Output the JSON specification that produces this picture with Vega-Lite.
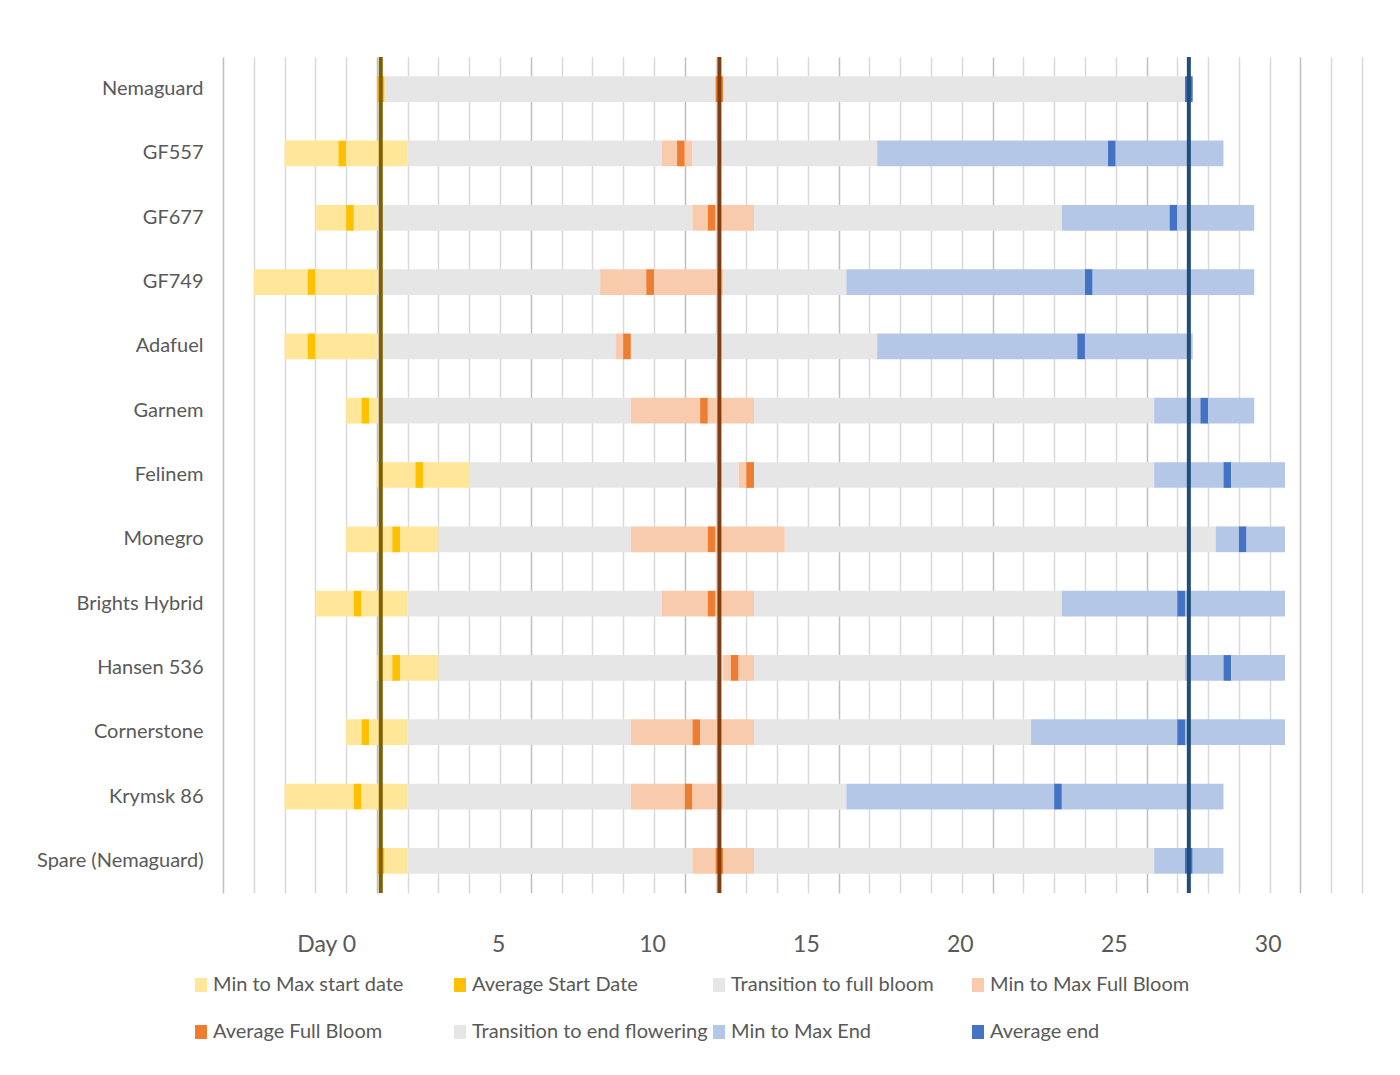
{
  "$schema": "https://vega.github.io/schema/vega-lite/v6.json",
  "autosize": {"type": "none"},
  "width": 1139,
  "height": 836,
  "padding": {"left": 223, "top": 57, "right": 38, "bottom": 182},
  "background": "white",
  "config": {
    "view": {"stroke": null},
    "font": "Lato",
    "axisX": {
      "title": null,
      "values": [-4, -3, -2, -1, 0, 1, 2, 3, 4, 5, 6, 7, 8, 9, 10, 11, 12, 13, 14, 15, 16, 17, 18, 19, 20, 21, 22, 23, 24, 25, 26, 27, 28, 29, 30, 31, 32, 33],
      "grid": true,
      "gridColor": {"condition": {"test": "(datum.value + 4) % 5 === 0", "value": "#bfbfbf"}, "value": "#d9d9d9"},
      "gridWidth": 1.5,
      "ticks": false,
      "domain": false,
      "labelExpr": "datum.value === 0 ? 'Day 0' : (datum.value > 0 && datum.value % 5 === 0 ? '' + datum.value : '')",
      "labelOffset": {"condition": {"test": "datum.value === 0", "value": -20}, "value": -2},
      "labelOverlap": false,
      "labelFlush": false,
      "labelFont": "Lato",
      "labelFontSize": 23,
      "labelColor": "#595959",
      "labelPadding": 40
    }
  },
  "datasets": {
    "segments": [
      {"rootstock": "Nemaguard", "phase": "Average Start Date", "from": 1, "to": 1.25},
      {"rootstock": "Nemaguard", "phase": "Transition to full bloom", "from": 1.25, "to": 12},
      {"rootstock": "Nemaguard", "phase": "Average Full Bloom", "from": 12, "to": 12.25},
      {"rootstock": "Nemaguard", "phase": "Transition to end flowering", "from": 12.25, "to": 27.25},
      {"rootstock": "Nemaguard", "phase": "Average end", "from": 27.25, "to": 27.5},

      {"rootstock": "GF557", "phase": "Min to Max start date", "from": -2, "to": -0.25},
      {"rootstock": "GF557", "phase": "Average Start Date", "from": -0.25, "to": 0},
      {"rootstock": "GF557", "phase": "Min to Max start date", "from": 0, "to": 2},
      {"rootstock": "GF557", "phase": "Transition to full bloom", "from": 2, "to": 10.25},
      {"rootstock": "GF557", "phase": "Min to Max Full Bloom", "from": 10.25, "to": 10.75},
      {"rootstock": "GF557", "phase": "Average Full Bloom", "from": 10.75, "to": 11},
      {"rootstock": "GF557", "phase": "Min to Max Full Bloom", "from": 11, "to": 11.25},
      {"rootstock": "GF557", "phase": "Transition to end flowering", "from": 11.25, "to": 17.25},
      {"rootstock": "GF557", "phase": "Min to Max End", "from": 17.25, "to": 24.75},
      {"rootstock": "GF557", "phase": "Average end", "from": 24.75, "to": 25},
      {"rootstock": "GF557", "phase": "Min to Max End", "from": 25, "to": 28.5},

      {"rootstock": "GF677", "phase": "Min to Max start date", "from": -1, "to": 0},
      {"rootstock": "GF677", "phase": "Average Start Date", "from": 0, "to": 0.25},
      {"rootstock": "GF677", "phase": "Min to Max start date", "from": 0.25, "to": 1},
      {"rootstock": "GF677", "phase": "Transition to full bloom", "from": 1, "to": 11.25},
      {"rootstock": "GF677", "phase": "Min to Max Full Bloom", "from": 11.25, "to": 11.75},
      {"rootstock": "GF677", "phase": "Average Full Bloom", "from": 11.75, "to": 12},
      {"rootstock": "GF677", "phase": "Min to Max Full Bloom", "from": 12, "to": 13.25},
      {"rootstock": "GF677", "phase": "Transition to end flowering", "from": 13.25, "to": 23.25},
      {"rootstock": "GF677", "phase": "Min to Max End", "from": 23.25, "to": 26.75},
      {"rootstock": "GF677", "phase": "Average end", "from": 26.75, "to": 27},
      {"rootstock": "GF677", "phase": "Min to Max End", "from": 27, "to": 29.5},

      {"rootstock": "GF749", "phase": "Min to Max start date", "from": -3, "to": -1.25},
      {"rootstock": "GF749", "phase": "Average Start Date", "from": -1.25, "to": -1},
      {"rootstock": "GF749", "phase": "Min to Max start date", "from": -1, "to": 1},
      {"rootstock": "GF749", "phase": "Transition to full bloom", "from": 1, "to": 8.25},
      {"rootstock": "GF749", "phase": "Min to Max Full Bloom", "from": 8.25, "to": 9.75},
      {"rootstock": "GF749", "phase": "Average Full Bloom", "from": 9.75, "to": 10},
      {"rootstock": "GF749", "phase": "Min to Max Full Bloom", "from": 10, "to": 12.25},
      {"rootstock": "GF749", "phase": "Transition to end flowering", "from": 12.25, "to": 16.25},
      {"rootstock": "GF749", "phase": "Min to Max End", "from": 16.25, "to": 24},
      {"rootstock": "GF749", "phase": "Average end", "from": 24, "to": 24.25},
      {"rootstock": "GF749", "phase": "Min to Max End", "from": 24.25, "to": 29.5},

      {"rootstock": "Adafuel", "phase": "Min to Max start date", "from": -2, "to": -1.25},
      {"rootstock": "Adafuel", "phase": "Average Start Date", "from": -1.25, "to": -1},
      {"rootstock": "Adafuel", "phase": "Min to Max start date", "from": -1, "to": 1},
      {"rootstock": "Adafuel", "phase": "Transition to full bloom", "from": 1, "to": 8.75},
      {"rootstock": "Adafuel", "phase": "Min to Max Full Bloom", "from": 8.75, "to": 9},
      {"rootstock": "Adafuel", "phase": "Average Full Bloom", "from": 9, "to": 9.25},
      {"rootstock": "Adafuel", "phase": "Transition to end flowering", "from": 9.25, "to": 17.25},
      {"rootstock": "Adafuel", "phase": "Min to Max End", "from": 17.25, "to": 23.75},
      {"rootstock": "Adafuel", "phase": "Average end", "from": 23.75, "to": 24},
      {"rootstock": "Adafuel", "phase": "Min to Max End", "from": 24, "to": 27.5},

      {"rootstock": "Garnem", "phase": "Min to Max start date", "from": 0, "to": 0.5},
      {"rootstock": "Garnem", "phase": "Average Start Date", "from": 0.5, "to": 0.75},
      {"rootstock": "Garnem", "phase": "Min to Max start date", "from": 0.75, "to": 1},
      {"rootstock": "Garnem", "phase": "Transition to full bloom", "from": 1, "to": 9.25},
      {"rootstock": "Garnem", "phase": "Min to Max Full Bloom", "from": 9.25, "to": 11.5},
      {"rootstock": "Garnem", "phase": "Average Full Bloom", "from": 11.5, "to": 11.75},
      {"rootstock": "Garnem", "phase": "Min to Max Full Bloom", "from": 11.75, "to": 13.25},
      {"rootstock": "Garnem", "phase": "Transition to end flowering", "from": 13.25, "to": 26.25},
      {"rootstock": "Garnem", "phase": "Min to Max End", "from": 26.25, "to": 27.75},
      {"rootstock": "Garnem", "phase": "Average end", "from": 27.75, "to": 28},
      {"rootstock": "Garnem", "phase": "Min to Max End", "from": 28, "to": 29.5},

      {"rootstock": "Felinem", "phase": "Min to Max start date", "from": 1, "to": 2.25},
      {"rootstock": "Felinem", "phase": "Average Start Date", "from": 2.25, "to": 2.5},
      {"rootstock": "Felinem", "phase": "Min to Max start date", "from": 2.5, "to": 4},
      {"rootstock": "Felinem", "phase": "Transition to full bloom", "from": 4, "to": 12.75},
      {"rootstock": "Felinem", "phase": "Min to Max Full Bloom", "from": 12.75, "to": 13},
      {"rootstock": "Felinem", "phase": "Average Full Bloom", "from": 13, "to": 13.25},
      {"rootstock": "Felinem", "phase": "Transition to end flowering", "from": 13.25, "to": 26.25},
      {"rootstock": "Felinem", "phase": "Min to Max End", "from": 26.25, "to": 28.5},
      {"rootstock": "Felinem", "phase": "Average end", "from": 28.5, "to": 28.75},
      {"rootstock": "Felinem", "phase": "Min to Max End", "from": 28.75, "to": 30.5},

      {"rootstock": "Monegro", "phase": "Min to Max start date", "from": 0, "to": 1.5},
      {"rootstock": "Monegro", "phase": "Average Start Date", "from": 1.5, "to": 1.75},
      {"rootstock": "Monegro", "phase": "Min to Max start date", "from": 1.75, "to": 3},
      {"rootstock": "Monegro", "phase": "Transition to full bloom", "from": 3, "to": 9.25},
      {"rootstock": "Monegro", "phase": "Min to Max Full Bloom", "from": 9.25, "to": 11.75},
      {"rootstock": "Monegro", "phase": "Average Full Bloom", "from": 11.75, "to": 12},
      {"rootstock": "Monegro", "phase": "Min to Max Full Bloom", "from": 12, "to": 14.25},
      {"rootstock": "Monegro", "phase": "Transition to end flowering", "from": 14.25, "to": 28.25},
      {"rootstock": "Monegro", "phase": "Min to Max End", "from": 28.25, "to": 29},
      {"rootstock": "Monegro", "phase": "Average end", "from": 29, "to": 29.25},
      {"rootstock": "Monegro", "phase": "Min to Max End", "from": 29.25, "to": 30.5},

      {"rootstock": "Brights Hybrid", "phase": "Min to Max start date", "from": -1, "to": 0.25},
      {"rootstock": "Brights Hybrid", "phase": "Average Start Date", "from": 0.25, "to": 0.5},
      {"rootstock": "Brights Hybrid", "phase": "Min to Max start date", "from": 0.5, "to": 2},
      {"rootstock": "Brights Hybrid", "phase": "Transition to full bloom", "from": 2, "to": 10.25},
      {"rootstock": "Brights Hybrid", "phase": "Min to Max Full Bloom", "from": 10.25, "to": 11.75},
      {"rootstock": "Brights Hybrid", "phase": "Average Full Bloom", "from": 11.75, "to": 12},
      {"rootstock": "Brights Hybrid", "phase": "Min to Max Full Bloom", "from": 12, "to": 13.25},
      {"rootstock": "Brights Hybrid", "phase": "Transition to end flowering", "from": 13.25, "to": 23.25},
      {"rootstock": "Brights Hybrid", "phase": "Min to Max End", "from": 23.25, "to": 27},
      {"rootstock": "Brights Hybrid", "phase": "Average end", "from": 27, "to": 27.25},
      {"rootstock": "Brights Hybrid", "phase": "Min to Max End", "from": 27.25, "to": 30.5},

      {"rootstock": "Hansen 536", "phase": "Min to Max start date", "from": 1, "to": 1.5},
      {"rootstock": "Hansen 536", "phase": "Average Start Date", "from": 1.5, "to": 1.75},
      {"rootstock": "Hansen 536", "phase": "Min to Max start date", "from": 1.75, "to": 3},
      {"rootstock": "Hansen 536", "phase": "Transition to full bloom", "from": 3, "to": 12.25},
      {"rootstock": "Hansen 536", "phase": "Min to Max Full Bloom", "from": 12.25, "to": 12.5},
      {"rootstock": "Hansen 536", "phase": "Average Full Bloom", "from": 12.5, "to": 12.75},
      {"rootstock": "Hansen 536", "phase": "Min to Max Full Bloom", "from": 12.75, "to": 13.25},
      {"rootstock": "Hansen 536", "phase": "Transition to end flowering", "from": 13.25, "to": 27.25},
      {"rootstock": "Hansen 536", "phase": "Min to Max End", "from": 27.25, "to": 28.5},
      {"rootstock": "Hansen 536", "phase": "Average end", "from": 28.5, "to": 28.75},
      {"rootstock": "Hansen 536", "phase": "Min to Max End", "from": 28.75, "to": 30.5},

      {"rootstock": "Cornerstone", "phase": "Min to Max start date", "from": 0, "to": 0.5},
      {"rootstock": "Cornerstone", "phase": "Average Start Date", "from": 0.5, "to": 0.75},
      {"rootstock": "Cornerstone", "phase": "Min to Max start date", "from": 0.75, "to": 2},
      {"rootstock": "Cornerstone", "phase": "Transition to full bloom", "from": 2, "to": 9.25},
      {"rootstock": "Cornerstone", "phase": "Min to Max Full Bloom", "from": 9.25, "to": 11.25},
      {"rootstock": "Cornerstone", "phase": "Average Full Bloom", "from": 11.25, "to": 11.5},
      {"rootstock": "Cornerstone", "phase": "Min to Max Full Bloom", "from": 11.5, "to": 13.25},
      {"rootstock": "Cornerstone", "phase": "Transition to end flowering", "from": 13.25, "to": 22.25},
      {"rootstock": "Cornerstone", "phase": "Min to Max End", "from": 22.25, "to": 27},
      {"rootstock": "Cornerstone", "phase": "Average end", "from": 27, "to": 27.25},
      {"rootstock": "Cornerstone", "phase": "Min to Max End", "from": 27.25, "to": 30.5},

      {"rootstock": "Krymsk 86", "phase": "Min to Max start date", "from": -2, "to": 0.25},
      {"rootstock": "Krymsk 86", "phase": "Average Start Date", "from": 0.25, "to": 0.5},
      {"rootstock": "Krymsk 86", "phase": "Min to Max start date", "from": 0.5, "to": 2},
      {"rootstock": "Krymsk 86", "phase": "Transition to full bloom", "from": 2, "to": 9.25},
      {"rootstock": "Krymsk 86", "phase": "Min to Max Full Bloom", "from": 9.25, "to": 11},
      {"rootstock": "Krymsk 86", "phase": "Average Full Bloom", "from": 11, "to": 11.25},
      {"rootstock": "Krymsk 86", "phase": "Min to Max Full Bloom", "from": 11.25, "to": 12.25},
      {"rootstock": "Krymsk 86", "phase": "Transition to end flowering", "from": 12.25, "to": 16.25},
      {"rootstock": "Krymsk 86", "phase": "Min to Max End", "from": 16.25, "to": 23},
      {"rootstock": "Krymsk 86", "phase": "Average end", "from": 23, "to": 23.25},
      {"rootstock": "Krymsk 86", "phase": "Min to Max End", "from": 23.25, "to": 28.5},

      {"rootstock": "Spare (Nemaguard)", "phase": "Average Start Date", "from": 1, "to": 1.25},
      {"rootstock": "Spare (Nemaguard)", "phase": "Min to Max start date", "from": 1.25, "to": 2},
      {"rootstock": "Spare (Nemaguard)", "phase": "Transition to full bloom", "from": 2, "to": 11.25},
      {"rootstock": "Spare (Nemaguard)", "phase": "Min to Max Full Bloom", "from": 11.25, "to": 12},
      {"rootstock": "Spare (Nemaguard)", "phase": "Average Full Bloom", "from": 12, "to": 12.25},
      {"rootstock": "Spare (Nemaguard)", "phase": "Min to Max Full Bloom", "from": 12.25, "to": 13.25},
      {"rootstock": "Spare (Nemaguard)", "phase": "Transition to end flowering", "from": 13.25, "to": 26.25},
      {"rootstock": "Spare (Nemaguard)", "phase": "Min to Max End", "from": 26.25, "to": 27.25},
      {"rootstock": "Spare (Nemaguard)", "phase": "Average end", "from": 27.25, "to": 27.5},
      {"rootstock": "Spare (Nemaguard)", "phase": "Min to Max End", "from": 27.5, "to": 28.5}
    ],
    "lines": [
      {"marker": "Average start", "day": 1.125},
      {"marker": "Average full bloom", "day": 12.125},
      {"marker": "Average end", "day": 27.375}
    ]
  },
  "layer": [
    {
      "data": {"name": "segments"},
      "mark": {"type": "bar"},
      "encoding": {
        "y": {
          "field": "rootstock",
          "type": "nominal",
          "sort": ["Nemaguard", "GF557", "GF677", "GF749", "Adafuel", "Garnem", "Felinem", "Monegro", "Brights Hybrid", "Hansen 536", "Cornerstone", "Krymsk 86", "Spare (Nemaguard)"],
          "scale": {"paddingInner": 0.6, "paddingOuter": 0.3},
          "axis": {
            "title": null,
            "ticks": false,
            "domain": false,
            "grid": false,
            "labelFont": "Lato",
            "labelFontSize": 20,
            "labelColor": "#595959",
            "labelPadding": 20,
            "labelLimit": 300
          }
        },
        "x": {
          "field": "from",
          "type": "quantitative",
          "title": null,
          "scale": {"domain": [-4, 33], "nice": false, "zero": false}
        },
        "x2": {"field": "to"},
        "color": {
          "field": "phase",
          "type": "nominal",
          "scale": {
            "domain": ["Min to Max start date", "Average Start Date", "Transition to full bloom", "Min to Max Full Bloom", "Average Full Bloom", "Transition to end flowering", "Min to Max End", "Average end"],
            "range": ["#FFE699", "#FFC000", "#E7E6E6", "#F8CBAD", "#ED7D31", "#E6E6E6", "#B4C7E7", "#4472C4"]
          },
          "legend": {
            "title": null,
            "orient": "none",
            "legendX": -32,
            "legendY": 918,
            "direction": "horizontal",
            "columns": 4,
            "gridAlign": "all",
            "symbolType": "M-0.86,-1H0.86V1H-0.86Z",
            "symbolSize": 196,
            "symbolStrokeWidth": 0,
            "labelFont": "Lato",
            "labelFontSize": 20,
            "labelColor": "#595959",
            "labelOffset": 2,
            "labelLimit": 400,
            "columnPadding": 1,
            "rowPadding": 27
          }
        }
      }
    },
    {
      "data": {"name": "lines"},
      "mark": {"type": "rule", "strokeWidth": 4},
      "encoding": {
        "x": {"field": "day", "type": "quantitative", "title": null},
        "color": {
          "field": "marker",
          "type": "nominal",
          "scale": {
            "domain": ["Average start", "Average full bloom", "Average end"],
            "range": ["#7F6000", "#843C0C", "#1F4E79"]
          },
          "legend": null
        }
      }
    }
  ],
  "resolve": {"scale": {"color": "independent"}}
}
